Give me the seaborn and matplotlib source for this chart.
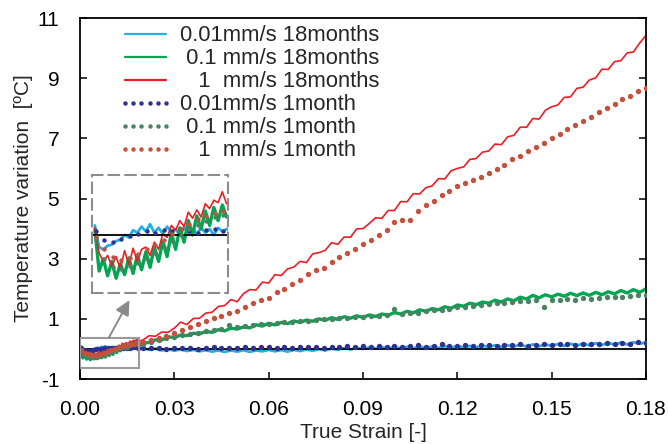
import numpy as np
import pandas as pd
import matplotlib
matplotlib.use("Agg")
import matplotlib.pyplot as plt
import seaborn as sns
from matplotlib.lines import Line2D
from matplotlib.patches import Rectangle

# ---------------- data ----------------
strain_line = [
    0.0003, 0.0009, 0.0015, 0.0021, 0.0027, 0.0033, 0.0039, 0.0045, 0.0051, 0.0057,
    0.0063, 0.0069, 0.0075, 0.0081, 0.0087, 0.0093, 0.0099, 0.0105, 0.0111, 0.0117,
    0.0123, 0.0129, 0.0135, 0.0141, 0.0147, 0.0153, 0.0159, 0.0165, 0.0171, 0.0177,
    0.0183, 0.0189,
    0.020, 0.022, 0.024, 0.026, 0.028, 0.030, 0.032, 0.034, 0.036, 0.038,
    0.040, 0.042, 0.044, 0.046, 0.048, 0.050, 0.052, 0.054, 0.056, 0.058,
    0.060, 0.062, 0.064, 0.066, 0.068, 0.070, 0.072, 0.074, 0.076, 0.078,
    0.080, 0.082, 0.084, 0.086, 0.088, 0.090, 0.092, 0.094, 0.096, 0.098,
    0.100, 0.102, 0.104, 0.106, 0.108, 0.110, 0.112, 0.114, 0.116, 0.118,
    0.120, 0.122, 0.124, 0.126, 0.128, 0.130, 0.132, 0.134, 0.136, 0.138,
    0.140, 0.142, 0.144, 0.146, 0.148, 0.150, 0.152, 0.154, 0.156, 0.158,
    0.160, 0.162, 0.164, 0.166, 0.168, 0.170, 0.172, 0.174, 0.176, 0.178,
    0.180,
]

temp_001_18m = [
    0.08, -0.10, -0.12, -0.09, -0.08, -0.05, -0.04, 0.00, -0.02, 0.04,
    0.02, 0.07, 0.03, 0.09, 0.02, 0.06, 0.01, 0.07, 0.03, 0.05,
    0.00, 0.06, 0.02, 0.05, 0.01, 0.06, 0.02, 0.05, 0.00, 0.06,
    0.03, 0.05,
    0.02, -0.03, 0.01, -0.05, -0.01, -0.06, -0.02, -0.07, -0.03, -0.08,
    -0.04, -0.09, -0.05, -0.10, -0.05, -0.09, -0.04, -0.10, -0.05, -0.08,
    -0.03, -0.08, -0.04, -0.09, -0.03, -0.07, -0.02, -0.06, -0.01, -0.05,
    0.01, -0.03, 0.03, -0.02, 0.04, 0.00, 0.05, 0.01, 0.06, 0.01,
    0.06, 0.02, 0.07, 0.02, 0.08, 0.03, 0.08, 0.03, 0.09, 0.04,
    0.10, 0.05, 0.10, 0.05, 0.11, 0.06, 0.12, 0.07, 0.12, 0.08,
    0.14, 0.08, 0.15, 0.09, 0.15, 0.10, 0.16, 0.10, 0.17, 0.11,
    0.18, 0.12, 0.19, 0.13, 0.20, 0.14, 0.21, 0.15, 0.22, 0.17,
    0.22,
]

temp_01_18m = [
    0.05, -0.30, -0.20, -0.34, -0.22, -0.36, -0.24, -0.33, -0.19, -0.32,
    -0.17, -0.29, -0.14, -0.27, -0.10, -0.22, -0.05, -0.18, 0.02, -0.12,
    0.06, -0.06, 0.12, 0.00, 0.16, 0.05, 0.20, 0.08, 0.23, 0.12,
    0.25, 0.15,
    0.18, 0.22, 0.30, 0.30, 0.40, 0.38, 0.46, 0.44, 0.52, 0.50,
    0.58, 0.55, 0.64, 0.60, 0.69, 0.66, 0.73, 0.70, 0.80, 0.76,
    0.85, 0.80, 0.88, 0.84, 0.93, 0.88, 0.96, 0.92, 1.00, 0.95,
    1.04, 0.98, 1.07, 1.02, 1.10, 1.05, 1.13, 1.08, 1.16, 1.12,
    1.21, 1.16, 1.25, 1.20, 1.30, 1.25, 1.34, 1.30, 1.40, 1.35,
    1.46, 1.42, 1.52, 1.47, 1.56, 1.52, 1.62, 1.56, 1.66, 1.60,
    1.72, 1.66, 1.78, 1.70, 1.80, 1.73, 1.82, 1.75, 1.85, 1.77,
    1.86, 1.78, 1.88, 1.80, 1.90, 1.83, 1.94, 1.86, 1.97, 1.88,
    2.00,
]

temp_1_18m = [
    0.06, -0.15, -0.22, -0.17, -0.26, -0.18, -0.28, -0.13, -0.25, -0.11,
    -0.22, -0.12, -0.10, -0.17, -0.06, -0.12, 0.01, -0.02, 0.08, 0.04,
    0.12, 0.07, 0.19, 0.14, 0.21, 0.15, 0.26, 0.22, 0.29, 0.27,
    0.36, 0.26,
    0.30, 0.44, 0.42, 0.56, 0.55, 0.69, 0.89, 0.81, 1.01, 1.02,
    1.19, 1.22, 1.41, 1.44, 1.64, 1.57, 1.84, 1.97, 1.96, 2.22,
    2.19, 2.47, 2.44, 2.66, 2.72, 2.91, 2.87, 3.16, 3.20, 3.28,
    3.53, 3.48, 3.72, 3.71, 3.99, 4.00, 4.17, 4.36, 4.34, 4.60,
    4.60, 4.90, 4.89, 5.16, 5.15, 5.36, 5.42, 5.66, 5.65, 5.92,
    6.00, 6.05, 6.30, 6.33, 6.54, 6.58, 6.81, 6.79, 7.05, 7.10,
    7.37, 7.37, 7.66, 7.64, 7.93, 8.05, 8.11, 8.36, 8.38, 8.66,
    8.70, 8.94, 9.01, 9.30, 9.29, 9.55, 9.58, 9.84, 9.87, 10.17,
    10.42,
]

strain_dot = [
    0.0004, 0.0016, 0.0028, 0.0040, 0.0052, 0.0064, 0.0076, 0.0088, 0.0100, 0.0112,
    0.0124, 0.0136, 0.0148, 0.0160, 0.0172, 0.0184,
    0.0200, 0.0225, 0.0250, 0.0275, 0.0300, 0.0325, 0.0350, 0.0375, 0.0400, 0.0425,
    0.0450, 0.0475, 0.0500, 0.0525, 0.0550, 0.0575, 0.0600, 0.0625, 0.0650, 0.0675,
    0.0700, 0.0725, 0.0750, 0.0775, 0.0800, 0.0825, 0.0850, 0.0875, 0.0900, 0.0925,
    0.0950, 0.0975, 0.1000, 0.1025, 0.1050, 0.1075, 0.1100, 0.1125, 0.1150, 0.1175,
    0.1200, 0.1225, 0.1250, 0.1275, 0.1300, 0.1325, 0.1350, 0.1375, 0.1400, 0.1425,
    0.1450, 0.1475, 0.1500, 0.1525, 0.1550, 0.1575, 0.1600, 0.1625, 0.1650, 0.1675,
    0.1700, 0.1725, 0.1750, 0.1775, 0.1800,
]

temp_001_1m = [
    0.03, -0.04, -0.06, -0.03, -0.01, 0.01, 0.03, 0.02, 0.04, 0.03,
    0.05, 0.03, 0.02, 0.04, 0.05, 0.03,
    0.03, 0.02, 0.04, 0.01, 0.03, 0.02, 0.04, 0.01, 0.03, 0.05,
    0.02, 0.04, 0.03, 0.06, 0.02, 0.05, 0.07, 0.04, 0.06, 0.03,
    0.08, 0.05, 0.07, 0.04, 0.08, 0.06, 0.10, 0.07, 0.09, 0.06,
    0.10, 0.08, 0.11, 0.07, 0.10, 0.12, 0.08, 0.10, 0.18, 0.09,
    0.11, 0.13, 0.09, 0.12, 0.14, 0.10, 0.13, 0.12, 0.15, 0.11,
    0.14, 0.16, 0.12, 0.15, 0.17, 0.13, 0.16, 0.18, 0.15, 0.19,
    0.17, 0.20, 0.18, 0.22, 0.21,
]

temp_01_1m = [
    -0.03, -0.20, -0.27, -0.28, -0.26, -0.23, -0.20, -0.15, -0.10, -0.05,
    0.00, 0.05, 0.08, 0.12, 0.15, 0.17,
    0.18, 0.24, 0.30, 0.35, 0.40, 0.45, 0.50, 0.54, 0.58, 0.62,
    0.66, 0.78, 0.72, 0.76, 0.79, 0.82, 0.84, 0.86, 0.88, 0.90,
    0.92, 0.94, 0.96, 0.98, 1.00, 1.02, 1.04, 1.05, 1.07, 1.09,
    1.11, 1.13, 1.32, 1.16, 1.18, 1.20, 1.25, 1.28, 1.31, 1.34,
    1.38, 1.40, 1.44, 1.46, 1.50, 1.52, 1.54, 1.56, 1.58, 1.60,
    1.62, 1.38, 1.62, 1.64, 1.66, 1.64, 1.68, 1.66, 1.70, 1.72,
    1.74, 1.73, 1.76, 1.78, 1.80,
]

temp_1_1m = [
    -0.02, -0.12, -0.18, -0.21, -0.19, -0.16, -0.12, -0.08, -0.04, 0.01,
    0.05, 0.09, 0.13, 0.16, 0.18, 0.20,
    0.22, 0.28, 0.35, 0.44, 0.52, 0.62, 0.72, 0.82, 0.93, 1.02,
    1.10, 1.18, 1.25, 1.38, 1.52, 1.62, 1.70, 1.88, 2.00, 2.15,
    2.30, 2.48, 2.62, 2.68, 2.88, 3.05, 3.20, 3.32, 3.50, 3.62,
    3.78, 3.95, 4.22, 4.28, 4.30, 4.60, 4.80, 4.93, 5.10, 5.25,
    5.40, 5.52, 5.62, 5.70, 5.85, 5.98, 6.10, 6.30, 6.42, 6.58,
    6.70, 6.85, 7.00, 7.15, 7.32, 7.45, 7.58, 7.70, 7.86, 8.02,
    8.15, 8.30, 8.42, 8.56, 8.68,
]

line_labels = ["0.01mm/s 18months", " 0.1 mm/s 18months", "   1  mm/s 18months"]
dot_labels = ["0.01mm/s 1month", " 0.1 mm/s 1month", "   1  mm/s 1month"]
x_ticks = [0.00, 0.03, 0.06, 0.09, 0.12, 0.15, 0.18]
x_ticklabels = ["0.00", "0.03", "0.06", "0.09", "0.12", "0.15", "0.18"]
y_ticks = [-1, 1, 3, 5, 7, 9, 11]
x_label = "True Strain [-]"
y_label = "Temperature variation  [ºC]"

# ---------------- style ----------------
line_colors = ["#23aee6", "#00a650", "#ee1c25"]
line_widths = [2.0, 2.4, 1.2]
dot_colors = ["#2e3192", "#4a8262", "#c4513d"]

sns.set_theme(style="ticks")
plt.rcParams["font.family"] = ["Liberation Sans", "DejaVu Sans"]
plt.rcParams["font.size"] = 15
plt.rcParams["axes.unicode_minus"] = False

df_line = pd.DataFrame({
    "strain": strain_line * 3,
    "temp": temp_001_18m + temp_01_18m + temp_1_18m,
    "series": sum([[lab] * len(strain_line) for lab in line_labels], []),
})
df_dot = pd.DataFrame({
    "strain": strain_dot * 3,
    "temp": temp_001_1m + temp_01_1m + temp_1_1m,
    "series": sum([[lab] * len(strain_dot) for lab in dot_labels], []),
})

fig = plt.figure(figsize=(6.68, 4.44), dpi=100)
ax = fig.add_axes([80 / 668, 1 - 379 / 444, 566 / 668, 361 / 444])


def draw(axis, dot_size):
    for lab, c, lw in zip(line_labels, line_colors, line_widths):
        sub = df_line[df_line["series"] == lab]
        sns.lineplot(data=sub, x="strain", y="temp", color=c, lw=lw,
                     estimator=None, sort=False, legend=False, ax=axis, zorder=2)
    axis.axhline(0, color="black", lw=1.3, zorder=2.5)
    for lab, c in zip(dot_labels, dot_colors):
        sub = df_dot[df_dot["series"] == lab]
        sns.scatterplot(data=sub, x="strain", y="temp", color=c, s=dot_size,
                        linewidth=0, legend=False, ax=axis, zorder=3)


draw(ax, 15)

ax.set_xlim(0, 0.18)
ax.set_ylim(-1, 11)
ax.set_xticks(x_ticks)
ax.set_xticklabels(x_ticklabels)
ax.set_yticks(y_ticks)
ax.tick_params(axis="both", direction="in", length=5, width=1.1, labelsize=15,
               pad=15, colors="black")
ax.tick_params(axis="y", right=True)
ax.set_xlabel(x_label, fontsize=15, labelpad=3)
ax.set_ylabel(y_label, fontsize=15, labelpad=3)
for sp in ax.spines.values():
    sp.set_visible(True)
    sp.set_color("black")
    sp.set_linewidth(1.3)

# zoom rectangle and arrow
ax.add_patch(Rectangle((0.0, -0.65), 0.0188, 1.02, fill=False,
                       edgecolor="#9a9a9a", lw=1.5, zorder=6))
ax.annotate("", xy=(0.0157, 1.62), xytext=(0.0092, 0.38),
            arrowprops=dict(arrowstyle="-|>", color="#8a8a8a", lw=1.4,
                            mutation_scale=22, shrinkA=0, shrinkB=0), zorder=6)

# inset
axin = ax.inset_axes([12 / 566, (379 - 293) / 361, 136 / 566, 118 / 361])
draw(axin, 10)
axin.set_xlim(-0.0001, 0.0191)
axin.set_ylim(-0.483, 0.5)
axin.set_xticks([])
axin.set_yticks([])
axin.set_xlabel("")
axin.set_ylabel("")
axin.set_facecolor("white")
for sp in axin.spines.values():
    sp.set_color("#8c8c8c")
    sp.set_linewidth(1.5)
    sp.set_linestyle((0, (5, 3)))

# legend
handles = [Line2D([], [], color=c, lw=1.6) for c in line_colors]
handles += [Line2D([], [], color=c, ls="", marker="o", ms=3.2, mew=0) for c in dot_colors]
ax.legend(handles, line_labels + dot_labels, loc="upper left",
          bbox_to_anchor=(0.052, 1.004), frameon=False, numpoints=6,
          handlelength=2.5, handletextpad=0.3, labelspacing=0.09,
          borderaxespad=0.3, borderpad=0.1, fontsize=15.8)

fig.savefig("out.png", dpi=100)
